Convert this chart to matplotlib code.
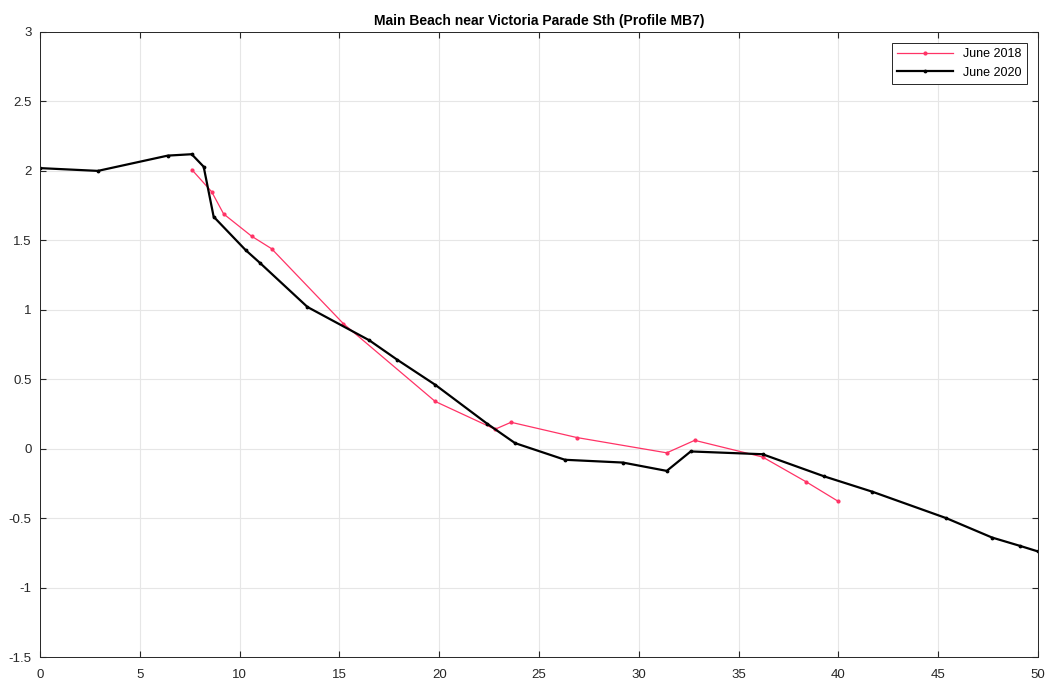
import matplotlib
matplotlib.use('Agg')
import matplotlib.pyplot as plt
from matplotlib.ticker import FuncFormatter

# June 2018 survey
x_2018 = [7.6, 8.6, 9.2, 10.6, 11.6, 15.2, 19.8, 22.8, 23.6, 26.9, 31.4, 32.8, 36.2, 38.4, 40.0]
z_2018 = [2.01, 1.85, 1.69, 1.53, 1.44, 0.90, 0.34, 0.14, 0.19, 0.08, -0.03, 0.06, -0.06, -0.24, -0.38]

# June 2020 survey
x_2020 = [0, 2.9, 6.4, 7.6, 8.2, 8.7, 10.3, 11.0, 13.4, 16.5, 17.9, 19.8, 22.4, 23.8,
          26.3, 29.2, 31.4, 32.6, 36.2, 39.3, 41.7, 45.4, 47.7, 49.1, 50.0]
z_2020 = [2.02, 2.0, 2.11, 2.12, 2.03, 1.67, 1.43, 1.34, 1.02, 0.78, 0.64, 0.46, 0.18, 0.04,
          -0.08, -0.10, -0.16, -0.02, -0.04, -0.20, -0.31, -0.50, -0.64, -0.70, -0.74]

plt.rcParams['font.family'] = ['Liberation Sans', 'DejaVu Sans']

fig = plt.figure(figsize=(10.51, 6.83), dpi=100)
ax = fig.add_axes([40 / 1051, 26 / 683, 998 / 1051, 625 / 683])

ax.plot(x_2018, z_2018, color='#ff3366', lw=0.9, marker='.', ms=4, label='June 2018')
ax.plot(x_2020, z_2020, color='black', lw=1.6, marker='.', ms=3.5, label='June 2020')

ax.set_xlim(0, 50)
ax.set_ylim(-1.5, 3)
ax.set_xticks(range(0, 51, 5))
ax.set_yticks([-1.5, -1, -0.5, 0, 0.5, 1, 1.5, 2, 2.5, 3])
ax.yaxis.set_major_formatter(FuncFormatter(lambda v, p: '%g' % v))
ax.tick_params(direction='in', top=True, right=True, labelsize=9.5, length=4, colors='#262626')
ax.tick_params(axis='x', pad=9)
ax.tick_params(axis='y', pad=6)
ax.grid(True, color='#e6e6e6', lw=0.8)
ax.set_axisbelow(True)
for s in ax.spines.values():
    s.set_color('#262626')
    s.set_linewidth(0.7)

ax.set_title('Main Beach near Victoria Parade Sth (Profile MB7)', fontsize=10, fontweight='bold', pad=5)
leg = ax.legend(loc='upper right', fontsize=9, fancybox=False, edgecolor='#262626',
                handlelength=4.5, borderaxespad=0.9, framealpha=1)
leg.get_frame().set_linewidth(0.7)

fig.savefig('out.png', dpi=100)
